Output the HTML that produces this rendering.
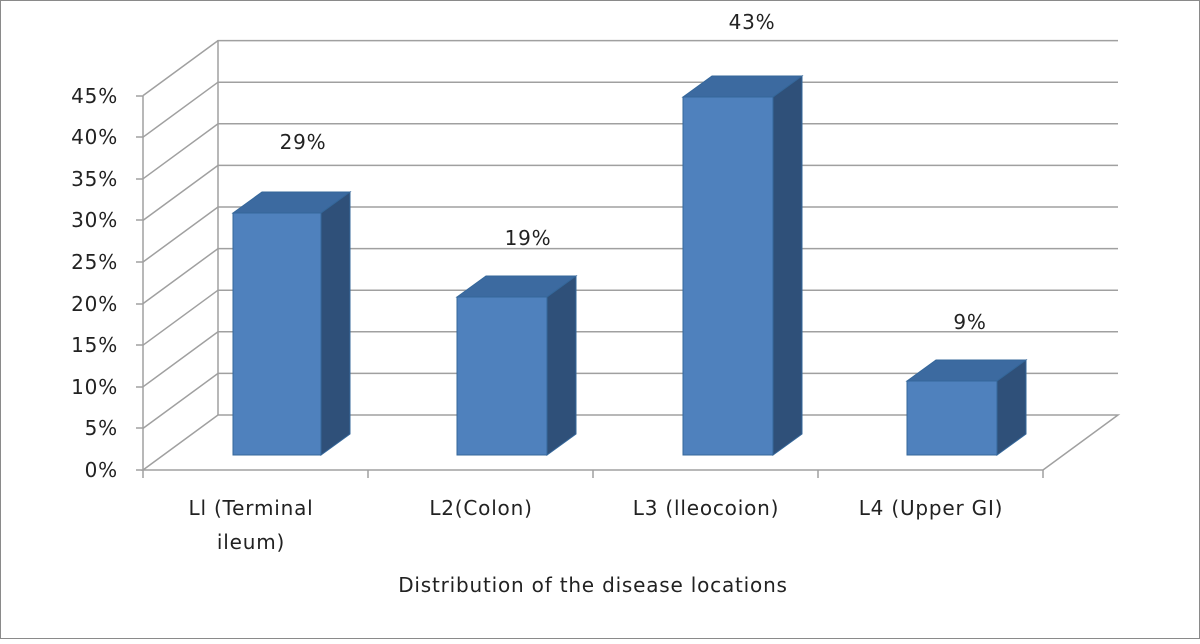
<!DOCTYPE html>
<html><head><style>body{margin:0;background:#fff}</style></head><body>
<svg width="1200" height="639" xmlns="http://www.w3.org/2000/svg" font-family="'DejaVu Sans','Liberation Sans',sans-serif">
<rect x="0.5" y="0.5" width="1199" height="638" fill="#fff" stroke="#8a8a8a"/>
<g stroke="#a0a0a0" stroke-width="1.5" fill="none">
<line x1="218" y1="40" x2="218" y2="415"/>
<line x1="143" y1="96" x2="143" y2="470"/>
<path d="M143,470 L218,415 L1118,415 L1043,470 Z"/>
</g>
<g stroke="#a0a0a0" stroke-width="1.5" fill="none">
<path d="M143,428.4 L218,373.4 H1118"/>
<path d="M143,386.8 L218,331.8 H1118"/>
<path d="M143,345.2 L218,290.2 H1118"/>
<path d="M143,303.6 L218,248.6 H1118"/>
<path d="M143,262 L218,207 H1118"/>
<path d="M143,220.4 L218,165.4 H1118"/>
<path d="M143,178.8 L218,123.8 H1118"/>
<path d="M143,137.2 L218,82.2 H1118"/>
<path d="M143,95.6 L218,40.6 H1118"/>
<line x1="143" y1="470" x2="143" y2="478"/><line x1="368" y1="470" x2="368" y2="478"/><line x1="593" y1="470" x2="593" y2="478"/><line x1="818" y1="470" x2="818" y2="478"/><line x1="1043" y1="470" x2="1043" y2="478"/>
<line x1="136" y1="470" x2="143" y2="470"/><line x1="136" y1="428" x2="143" y2="428"/><line x1="136" y1="387" x2="143" y2="387"/><line x1="136" y1="345" x2="143" y2="345"/><line x1="136" y1="304" x2="143" y2="304"/><line x1="136" y1="262" x2="143" y2="262"/><line x1="136" y1="220" x2="143" y2="220"/><line x1="136" y1="179" x2="143" y2="179"/><line x1="136" y1="137" x2="143" y2="137"/><line x1="136" y1="96" x2="143" y2="96"/>
</g>
<g stroke="#35679a" stroke-width="1">
<path d="M233,213 L262,192 H350 L321,213 Z" fill="#3c6aa0"/><path d="M321,213 L350,192 V434 L321,455 Z" fill="#2f5079"/><rect x="233" y="213" width="88" height="242" fill="#4f81bd"/>
<path d="M457,297 L486,276 H576 L547,297 Z" fill="#3c6aa0"/><path d="M547,297 L576,276 V434 L547,455 Z" fill="#2f5079"/><rect x="457" y="297" width="90" height="158" fill="#4f81bd"/>
<path d="M683,97 L712,76 H802 L773,97 Z" fill="#3c6aa0"/><path d="M773,97 L802,76 V434 L773,455 Z" fill="#2f5079"/><rect x="683" y="97" width="90" height="358" fill="#4f81bd"/>
<path d="M907,381 L936,360 H1026 L997,381 Z" fill="#3c6aa0"/><path d="M997,381 L1026,360 V434 L997,455 Z" fill="#2f5079"/><rect x="907" y="381" width="90" height="74" fill="#4f81bd"/>
</g>
<g font-size="20" letter-spacing="0.8" fill="#222" text-anchor="end">
<text x="118" y="477">0%</text><text x="118" y="435">5%</text><text x="118" y="394">10%</text><text x="118" y="352">15%</text><text x="118" y="311">20%</text><text x="118" y="269">25%</text><text x="118" y="227">30%</text><text x="118" y="186">35%</text><text x="118" y="144">40%</text><text x="118" y="103">45%</text>
</g>
<g font-size="20" letter-spacing="0.8" fill="#222" text-anchor="middle">
<text x="303" y="149">29%</text><text x="528" y="245">19%</text><text x="752" y="29">43%</text><text x="970" y="329">9%</text>
<text x="251" y="515">Ll (Terminal</text><text x="251" y="549">ileum)</text>
<text x="481" y="515">L2(Colon)</text><text x="706" y="515">L3 (lleocoion)</text><text x="931" y="515">L4 (Upper GI)</text>
<text x="593" y="592">Distribution of the disease locations</text>
</g>
</svg>
</body></html>
